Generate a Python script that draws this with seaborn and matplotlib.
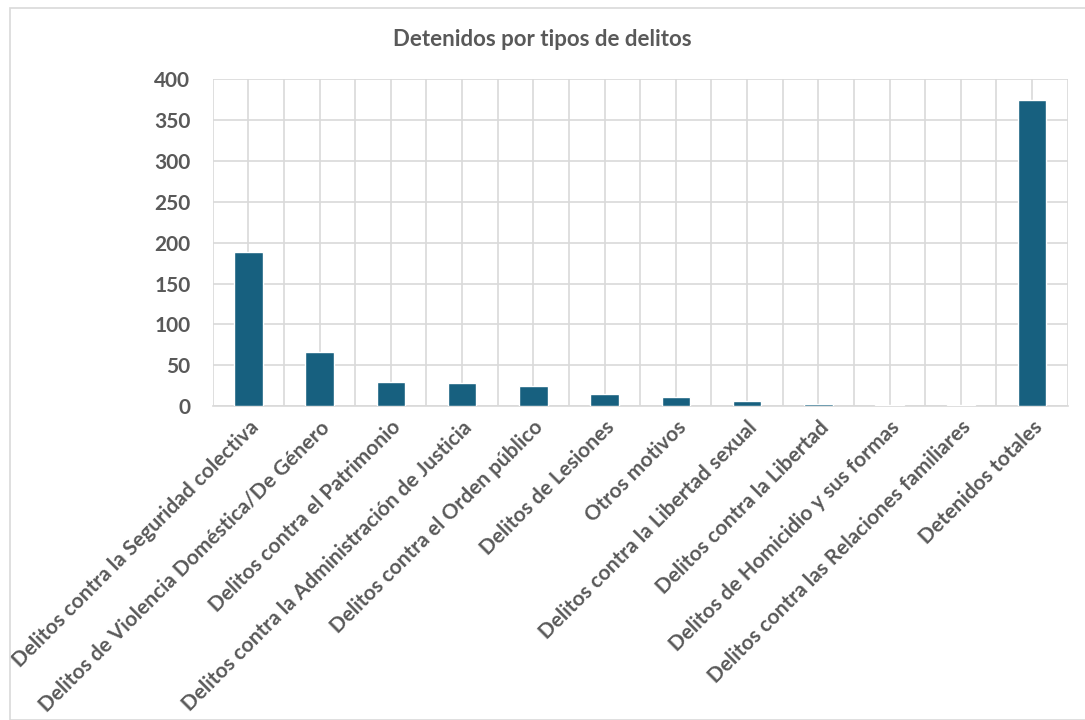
import numpy as np
import pandas as pd
import matplotlib
matplotlib.use("Agg")
import matplotlib.pyplot as plt
import seaborn as sns
from matplotlib.ticker import FixedLocator

categories = [
    "Delitos contra la Seguridad colectiva",
    "Delitos de Violencia Doméstica/De Género",
    "Delitos contra el Patrimonio",
    "Delitos contra la Administración de Justicia",
    "Delitos contra el Orden público",
    "Delitos de Lesiones",
    "Otros motivos",
    "Delitos contra la Libertad sexual",
    "Delitos contra la Libertad",
    "Delitos de Homicidio y sus formas",
    "Delitos contra las Relaciones familiares",
    "Detenidos totales",
]
detenidos = [188, 66, 30, 28, 25, 15, 11, 6, 3, 1, 1, 374]
yticks = [0, 50, 100, 150, 200, 250, 300, 350, 400]

df = pd.DataFrame({"tipo": categories, "detenidos": detenidos})

sns.set_theme(style="white")
plt.rcParams["font.family"] = ["Lato", "DejaVu Sans"]

text_color = "#595959"
grid_color = "#d9d9d9"

fig = plt.figure(figsize=(10.85, 7.2), dpi=100)
ax = fig.add_axes([0.196, 0.436, 0.788, 0.454])

sns.barplot(data=df, x="tipo", y="detenidos", color="#17607f", width=0.4,
            saturation=1, ax=ax, zorder=3)

n = len(categories)
ax.set_yticks(yticks)
ax.set_yticklabels([str(v) for v in yticks], fontsize=15,
                   fontweight="bold", color=text_color)
ax.set_xticks(range(n))
ax.set_xticklabels(categories, rotation=45, ha="right", rotation_mode="anchor",
                   fontsize=15, fontweight="bold", color=text_color)
ax.set_xlim(-0.5, n - 0.5)
ax.set_ylim(0, 400)
ax.xaxis.set_minor_locator(FixedLocator(np.arange(-0.5, n, 1.0)))
ax.grid(axis="y", color=grid_color, linewidth=1.2, zorder=0)
ax.grid(axis="x", which="both", color=grid_color, linewidth=1.2, zorder=0)
ax.set_axisbelow(True)

for side in ["top", "right", "left"]:
    ax.spines[side].set_visible(False)
ax.spines["bottom"].set_color(grid_color)
ax.spines["bottom"].set_linewidth(1.2)

ax.tick_params(axis="both", which="both", length=0)
ax.tick_params(axis="y", pad=16)
ax.tick_params(axis="x", pad=8)

ax.set_xlabel("")
ax.set_ylabel("")
fig.text(0.5, 0.945, "Detenidos por tipos de delitos", ha="center", va="center",
         fontsize=16, fontweight="bold", color=text_color)

# chart border
fig.patches.append(plt.Rectangle((10 / 1085, 0.0), 1.0, 1 - 8 / 720,
                                 transform=fig.transFigure, fill=False,
                                 edgecolor="#d9d9d9", linewidth=1.2))

fig.savefig("out.png", dpi=100, facecolor="white")
